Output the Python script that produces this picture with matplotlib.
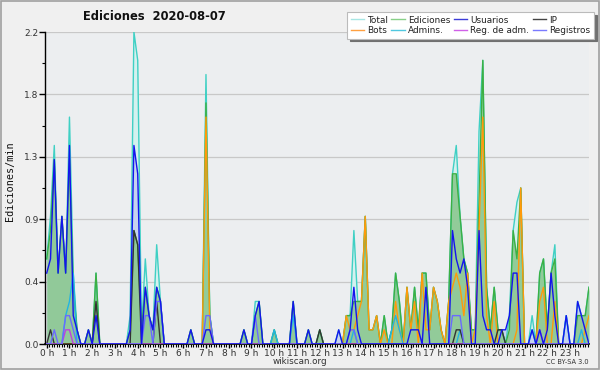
import numpy as np
import matplotlib
matplotlib.use("Agg")
import matplotlib.pyplot as plt
from matplotlib.ticker import MultipleLocator, FixedLocator
from matplotlib.lines import Line2D

# 10-minute samples, 144 per day (edits per minute)
total = [
    0.6, 0.9, 1.4, 0.5, 0.9, 0.5,  1.6, 0.5, 0.1, 0, 0, 0.1,  0, 0.5, 0, 0, 0, 0,  0, 0, 0, 0, 0.2, 2.2,
    2.0, 0.1, 0.6, 0.2, 0.1, 0.7,  0.3, 0, 0, 0, 0, 0,  0, 0, 0.1, 0, 0, 0,  1.9, 0.2, 0, 0, 0, 0,
    0, 0, 0, 0, 0.1, 0,  0, 0.3, 0.3, 0, 0, 0,  0.1, 0, 0, 0, 0, 0.3,  0, 0, 0, 0.1, 0, 0,
    0.1, 0, 0, 0, 0, 0.1,  0, 0.2, 0.2, 0.8, 0.3, 0.3,  0.9, 0.1, 0.1, 0.2, 0, 0.2,  0, 0.1, 0.5, 0.3, 0, 0.4,
    0.1, 0.4, 0.1, 0.5, 0.5, 0.1,  0.4, 0.3, 0.1, 0, 0.3, 1.2,  1.4, 0.9, 0.6, 0.5, 0.1, 0.1,  1.5, 2.0, 0.4, 0.1, 0.4, 0.1,
    0.1, 0, 0.2, 0.8, 1.0, 1.1,  0, 0, 0.2, 0, 0.5, 0.6,  0.1, 0.5, 0.7, 0, 0, 0.2,  0, 0, 0.3, 0.2, 0.2, 0.4,
]
ediciones = [
    0.6, 0.8, 1.3, 0.5, 0.9, 0.5,  1.3, 0.4, 0.1, 0, 0, 0.1,  0, 0.5, 0, 0, 0, 0,  0, 0, 0, 0, 0.1, 0.8,
    0.7, 0.1, 0.4, 0.2, 0.1, 0.4,  0.3, 0, 0, 0, 0, 0,  0, 0, 0.1, 0, 0, 0,  1.7, 0.2, 0, 0, 0, 0,
    0, 0, 0, 0, 0.1, 0,  0, 0.2, 0.3, 0, 0, 0,  0.1, 0, 0, 0, 0, 0.3,  0, 0, 0, 0.1, 0, 0,
    0.1, 0, 0, 0, 0, 0,  0, 0.2, 0.2, 0.3, 0.3, 0.3,  0.9, 0.1, 0.1, 0.2, 0, 0.2,  0, 0.1, 0.5, 0.3, 0, 0.4,
    0.1, 0.4, 0.1, 0.5, 0.5, 0.1,  0.4, 0.3, 0.1, 0, 0.3, 1.2,  1.2, 0.9, 0.6, 0.5, 0.1, 0.1,  1.0, 2.0, 0.4, 0.1, 0.4, 0.1,
    0.1, 0, 0.1, 0.8, 0.6, 1.1,  0, 0, 0, 0, 0.5, 0.6,  0.1, 0.5, 0.6, 0, 0, 0,  0, 0, 0.2, 0.2, 0.2, 0.4,
]
usuarios = [
    0.5, 0.6, 1.3, 0.5, 0.9, 0.5,  1.4, 0.2, 0.1, 0, 0, 0.1,  0, 0.2, 0, 0, 0, 0,  0, 0, 0, 0, 0.1, 1.4,
    1.2, 0, 0.4, 0.2, 0.1, 0.4,  0.3, 0, 0, 0, 0, 0,  0, 0, 0.1, 0, 0, 0,  0.1, 0.1, 0, 0, 0, 0,
    0, 0, 0, 0, 0.1, 0,  0, 0.2, 0.3, 0, 0, 0,  0, 0, 0, 0, 0, 0.3,  0, 0, 0, 0.1, 0, 0,
    0, 0, 0, 0, 0, 0.1,  0, 0, 0.1, 0.4, 0.1, 0,  0, 0, 0, 0, 0, 0,  0, 0, 0, 0, 0, 0,
    0.1, 0.1, 0.1, 0, 0.4, 0,  0, 0, 0, 0, 0, 0.8,  0.6, 0.5, 0.6, 0.4, 0, 0,  0.8, 0.2, 0.1, 0.1, 0, 0,
    0.1, 0.1, 0.2, 0.5, 0.5, 0,  0, 0, 0.1, 0, 0.1, 0,  0.1, 0.5, 0.2, 0, 0, 0.2,  0, 0, 0.3, 0.2, 0.1, 0,
]
ip = [
    0, 0.1, 0, 0, 0, 0,  0, 0, 0, 0, 0, 0,  0, 0.3, 0, 0, 0, 0,  0, 0, 0, 0, 0, 0.8,
    0.7, 0, 0, 0, 0, 0.3,  0, 0, 0, 0, 0, 0,  0, 0, 0, 0, 0, 0,  0, 0, 0, 0, 0, 0,
    0, 0, 0, 0, 0, 0,  0, 0, 0, 0, 0, 0,  0, 0, 0, 0, 0, 0,  0, 0, 0, 0, 0, 0,
    0.1, 0, 0, 0, 0, 0,  0, 0, 0, 0, 0, 0,  0, 0, 0, 0, 0, 0,  0, 0, 0, 0, 0, 0,
    0, 0, 0, 0, 0, 0,  0, 0, 0, 0, 0, 0,  0.1, 0.1, 0, 0, 0, 0,  0, 0, 0, 0, 0, 0.1,
    0.1, 0, 0, 0, 0, 0,  0, 0, 0, 0, 0, 0,  0, 0, 0, 0, 0, 0,  0, 0, 0, 0, 0, 0,
]
bots = [
    0, 0, 0, 0, 0, 0,  0, 0, 0, 0, 0, 0,  0, 0, 0, 0, 0, 0,  0, 0, 0, 0, 0, 0,
    0, 0, 0, 0, 0, 0,  0, 0, 0, 0, 0, 0,  0, 0, 0, 0, 0, 0,  1.6, 0.1, 0, 0, 0, 0,
    0, 0, 0, 0, 0, 0,  0, 0, 0, 0, 0, 0,  0, 0, 0, 0, 0, 0,  0, 0, 0, 0, 0, 0,
    0, 0, 0, 0, 0, 0,  0, 0.2, 0.1, 0.1, 0.2, 0.3,  0.9, 0.1, 0.1, 0.2, 0, 0.1,  0, 0, 0.3, 0.1, 0, 0.4,
    0.1, 0.3, 0, 0.5, 0.1, 0.1,  0.4, 0.3, 0.1, 0, 0.3, 0.4,  0.5, 0.4, 0.2, 0.5, 0, 0.1,  0.8, 1.6, 0.2, 0, 0.3, 0,
    0, 0, 0, 0, 0.1, 1.1,  0, 0, 0, 0, 0.3, 0.4,  0, 0, 0.3, 0, 0, 0,  0, 0, 0, 0, 0.1, 0.2,
]
admins = [
    0, 0, 0, 0, 0, 0.2,  0.3, 0.5, 0, 0, 0, 0,  0, 0, 0, 0, 0, 0,  0, 0, 0, 0, 0, 0,
    0, 0, 0, 0, 0, 0,  0, 0, 0, 0, 0, 0,  0, 0, 0, 0, 0, 0,  0, 0, 0, 0, 0, 0,
    0, 0, 0, 0, 0, 0,  0, 0, 0, 0, 0, 0,  0.1, 0, 0, 0, 0, 0.2,  0, 0, 0, 0, 0, 0,
    0, 0, 0, 0, 0, 0,  0, 0, 0, 0.1, 0, 0,  0, 0, 0, 0, 0, 0,  0, 0.1, 0.2, 0.1, 0, 0,
    0, 0, 0, 0, 0, 0,  0, 0, 0, 0, 0, 0,  0, 0.1, 0, 0, 0, 0,  0, 0, 0, 0, 0, 0,
    0, 0, 0, 0, 0, 0,  0, 0, 0.1, 0, 0, 0,  0, 0, 0, 0, 0, 0.2,  0, 0, 0, 0.1, 0, 0,
]
reg_adm = [
    0, 0, 0, 0, 0, 0.1,  0.1, 0, 0, 0, 0, 0,  0, 0, 0, 0, 0, 0,  0, 0, 0, 0, 0, 0,
    0, 0, 0, 0, 0, 0,  0, 0, 0, 0, 0, 0,  0, 0, 0, 0, 0, 0,  0, 0, 0, 0, 0, 0,
    0, 0, 0, 0, 0, 0,  0, 0, 0, 0, 0, 0,  0, 0, 0, 0, 0, 0,  0, 0, 0, 0, 0, 0,
    0, 0, 0, 0, 0, 0,  0, 0, 0, 0, 0, 0,  0, 0, 0, 0, 0, 0,  0, 0, 0, 0, 0, 0,
    0, 0, 0, 0, 0, 0,  0, 0, 0, 0, 0, 0,  0, 0, 0, 0, 0, 0,  0, 0, 0, 0, 0, 0,
    0, 0, 0, 0, 0, 0,  0, 0, 0, 0, 0.1, 0,  0, 0, 0, 0, 0, 0,  0, 0, 0, 0, 0, 0,
]
registros = [
    0, 0, 0.1, 0, 0, 0.2,  0.2, 0.1, 0, 0, 0, 0,  0, 0, 0, 0, 0, 0,  0, 0, 0, 0, 0, 0,
    0, 0, 0.2, 0.2, 0, 0.3,  0.3, 0, 0, 0, 0, 0,  0, 0, 0, 0, 0, 0,  0.2, 0.2, 0, 0, 0, 0,
    0, 0, 0, 0, 0, 0,  0, 0.2, 0, 0, 0, 0,  0, 0, 0, 0, 0, 0,  0, 0, 0, 0, 0, 0,
    0, 0, 0, 0, 0, 0,  0, 0, 0.1, 0.1, 0, 0,  0, 0, 0, 0, 0, 0,  0, 0, 0, 0, 0, 0,
    0, 0, 0, 0, 0, 0,  0, 0, 0, 0, 0, 0.2,  0.2, 0.2, 0, 0, 0, 0,  0, 0, 0, 0, 0, 0,
    0, 0, 0, 0, 0, 0,  0, 0, 0, 0, 0, 0,  0, 0, 0, 0, 0, 0,  0, 0, 0, 0, 0, 0,
]
hour_labels = [f"{h} h" for h in range(24)]
legend_order = ["Total", "Bots", "Ediciones", "Admins.", "Usuarios", "Reg. de adm.", "IP", "Registros"]

x = np.arange(len(total)) / 6.0

fig = plt.figure(figsize=(6, 3.7), dpi=100, facecolor="#f0f0f0")
ax = fig.add_axes([45/600, 26/370, 544/600, 312/370])
ax.set_facecolor("#eceef0")

# fills
ax.fill_between(x, total, 0, color="#d4f1ef", lw=0, zorder=1)
ax.fill_between(x, usuarios, 0, color="#c6d3ef", lw=0, zorder=1.5)
ax.fill_between(x, ediciones, 0, color="#8fc995", lw=0, alpha=0.95, zorder=2)

lw = 1.0
ax.plot(x, total, color="#3fd0c4", lw=lw, zorder=3)
ax.plot(x, ediciones, color="#3cb043", lw=lw, zorder=3.1)
ax.plot(x, bots, color="#ff9a0a", lw=lw, zorder=3.2)
ax.plot(x, admins, color="#22b4e2", lw=lw, zorder=3.3)
ax.plot(x, ip, color="#333333", lw=lw, zorder=3.4)
ax.plot(x, reg_adm, color="#c040dc", lw=lw, zorder=3.4)
ax.plot(x, registros, color="#6a6aff", lw=lw, zorder=3.4)
ax.plot(x, usuarios, color="#1414ee", lw=lw, zorder=3.5)

ax.set_xlim(-0.075, 143 / 6.0)
ax.set_ylim(0, 2.2)

yt = np.linspace(0, 2.2, 6)
ax.set_yticks(yt)
ax.set_yticklabels([f"{v:.1f}" for v in yt])
ax.yaxis.set_minor_locator(FixedLocator(yt[:-1] + 0.22))
ax.set_xticks(np.arange(24))
ax.set_xticklabels(hour_labels)
ax.xaxis.set_minor_locator(MultipleLocator(1/9))
ax.grid(axis="y", color="#c8c8c8", lw=0.9, zorder=0)
ax.set_axisbelow(True)

for s in ["top", "right"]:
    ax.spines[s].set_visible(False)
ax.spines["bottom"].set_linewidth(1.2)
ax.spines["left"].set_linewidth(1.0)
ax.tick_params(axis="x", which="major", labelsize=6.5, labelcolor="#333333",
               length=3, width=1, pad=0.5)
ax.tick_params(axis="y", which="major", labelsize=6.5, labelcolor="#333333",
               length=4, width=1, pad=0.5)
ax.tick_params(axis="both", which="minor", length=2.5, width=0.8)

legend_colors = {"Total": "#a8e6e4", "Ediciones": "#88d088", "Usuarios": "#3c3cd8",
                 "IP": "#444444", "Bots": "#ffa040", "Admins.": "#50c8e0",
                 "Reg. de adm.": "#d060e8", "Registros": "#7a7aff"}
lh = [Line2D([], [], color=legend_colors[k], lw=1) for k in legend_order]
leg = fig.legend(lh, legend_order, ncol=4, loc="upper left",
                 bbox_to_anchor=(347/600, 1 - 12/370), fontsize=6.4,
                 frameon=True, fancybox=False, shadow={"color": "#707070", "alpha": 1},
                 handlelength=1.5, handletextpad=0.35, columnspacing=0.4,
                 labelspacing=0.18, borderpad=0.4, borderaxespad=0)
leg.get_frame().set_edgecolor("#bbbbbb")
leg.get_frame().set_facecolor("white")
leg.get_frame().set_linewidth(0.8)
for t in leg.get_texts():
    t.set_color("#222222")

fig.text(154/600, 1 - 16/370, "Ediciones  2020-08-07", ha="center", va="center",
         fontsize=8.3, fontweight="bold", color="#111111")
fig.text(10/600, 189/370, "Ediciones/min", rotation=90, ha="center", va="center",
         fontsize=7.3, family="DejaVu Sans Mono", color="#111111")
fig.text(300/600, 1 - 362/370, "wikiscan.org", ha="center", va="center",
         fontsize=6.3, color="#333333")
fig.text(589/600, 1 - 362/370, "CC BY-SA 3.0", ha="right", va="center",
         fontsize=4.8, color="#333333")

fig.patches.append(plt.Rectangle((0.001, 0.002), 0.997, 0.995, transform=fig.transFigure,
                                 fill=False, edgecolor="#a0a0a0", lw=1.2))

fig.savefig("out.png", dpi=100, facecolor=fig.get_facecolor())
